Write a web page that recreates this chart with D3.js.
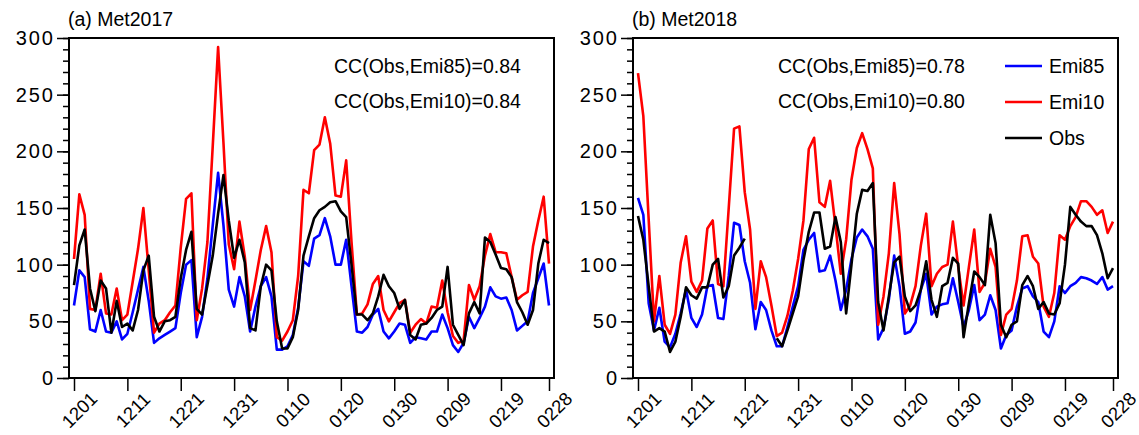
<!DOCTYPE html>
<html>
<head>
<meta charset="utf-8">
<script src="https://cdn.jsdelivr.net/npm/d3@7"></script>
<style>
    body { margin: 0; background: #fff; }
    text { font-family: "Liberation Sans", Arial, Helvetica, sans-serif; fill: #000; }
    .tick line { stroke: #000; stroke-width: 1.5; }
    .domain { display: none; }
</style>
</head>
<body>
<script>

// x axis: days from Dec 1 to Feb 28
var tickDays = [0, 10, 20, 30, 40, 50, 60, 70, 80, 89];
var tickLabels = ["1201", "1211", "1221", "1231", "0110", "0120", "0130", "0209", "0219", "0228"];
var yTicks = [0, 50, 100, 150, 200, 250, 300];

// Met2017
var emi85_2017 = [64, 95, 89, 43, 41, 60, 41, 40, 50, 34, 39, 58, 78, 98, 68, 31, 35, 38, 41, 44,
    75, 100, 104, 36, 54, 88, 135, 181, 135, 78, 63, 89, 72, 41, 63, 81, 89, 72, 25, 25,
    28, 38, 62, 103, 99, 123, 126, 141, 125, 100, 100, 122, 81, 41, 40, 45, 56, 61, 41, 35,
    41, 48, 47, 31, 36, 35, 34, 41, 41, 56, 44, 29, 23, 31, 54, 44, 53, 63, 80, 72,
    70, 71, 60, 42, 46, 50, 75, 88, 101, 64];
var emi10_2017 = [105, 162, 144, 61, 60, 92, 57, 56, 79, 51, 56, 85, 114, 150, 95, 40, 48, 51, 58, 64,
    115, 158, 163, 51, 79, 120, 205, 292, 208, 118, 96, 138, 107, 60, 86, 113, 134, 111, 36, 33,
    41, 51, 90, 166, 163, 201, 206, 230, 207, 161, 160, 192, 120, 56, 57, 65, 83, 90, 60, 50,
    58, 66, 69, 40, 47, 52, 48, 63, 62, 86, 58, 37, 31, 33, 82, 69, 81, 108, 127, 111,
    111, 110, 89, 69, 73, 76, 116, 139, 160, 101];
var obs_2017 = [82, 117, 131, 79, 59, 86, 79, 40, 68, 45, 48, 42, 60, 95, 108, 54, 41, 50, 51, 54,
    88, 113, 129, 61, 56, 82, 108, 145, 179, 139, 106, 122, 102, 44, 42, 81, 100, 95, 50, 26,
    26, 36, 60, 108, 125, 141, 148, 151, 155, 156, 147, 142, 100, 56, 56, 51, 57, 72, 91, 81,
    75, 61, 69, 38, 34, 47, 48, 53, 60, 63, 98, 47, 38, 29, 57, 67, 57, 124, 120, 109,
    97, 96, 89, 67, 58, 47, 60, 101, 122, 119];

// Met2018 (obs missing 1222-1226)
var emi85_2018 = [159, 144, 66, 42, 62, 32, 27, 39, 57, 78, 53, 45, 56, 81, 82, 53, 52, 90, 137, 135,
    103, 84, 43, 67, 60, 42, 28, 28, 45, 63, 81, 113, 122, 128, 94, 95, 108, 86, 60, 78,
    105, 124, 131, 125, 114, 34, 44, 69, 108, 81, 39, 41, 49, 78, 92, 56, 63, 65, 66, 88,
    67, 45, 60, 82, 51, 56, 73, 60, 26, 38, 42, 63, 79, 81, 72, 67, 41, 36, 50, 81,
    75, 81, 84, 89, 88, 86, 83, 89, 78, 81];
var emi10_2018 = [269, 231, 140, 50, 90, 47, 39, 56, 102, 125, 85, 76, 86, 132, 139, 83, 81, 150, 220, 222,
    164, 131, 61, 103, 89, 64, 37, 40, 55, 77, 105, 139, 202, 212, 155, 151, 174, 134, 92, 122,
    175, 203, 216, 202, 185, 47, 72, 110, 172, 127, 57, 64, 81, 117, 145, 81, 92, 98, 100, 138,
    98, 64, 98, 131, 76, 84, 114, 98, 38, 56, 61, 86, 125, 126, 107, 101, 63, 54, 75, 126,
    122, 134, 142, 156, 156, 151, 144, 148, 128, 138];
var obs_2018 = [143, 122, 81, 41, 44, 41, 23, 32, 54, 80, 73, 70, 80, 80, 100, 105, 71, 81, 108, 115,
    123, null, null, null, null, null, 35, 28, 42, 57, 72, 104, 129, 146, 146, 114, 116, 142, 120, 57,
    100, 145, 166, 165, 172, 67, 42, 72, 102, 107, 72, 59, 64, 78, 103, 69, 54, 81, 84, 106,
    101, 36, 66, 94, 89, 82, 144, 119, 47, 36, 47, 50, 82, 90, 81, 61, 67, 57, 56, 66,
    100, 151, 144, 138, 134, 134, 126, 110, 88, 97];

var panels = [
    {title: "(a) Met2017", left: 69, emi85: emi85_2017, emi10: emi10_2017, obs: obs_2017,
        cc: ["CC(Obs,Emi85)=0.84", "CC(Obs,Emi10)=0.84"], ccX: 334, legend: false},
    {title: "(b) Met2018", left: 633, emi85: emi85_2018, emi10: emi10_2018, obs: obs_2018,
        cc: ["CC(Obs,Emi85)=0.78", "CC(Obs,Emi10)=0.80"], ccX: 778, legend: true}
];

var frameW = 485, plotTop = 38, plotBottom = 378;

var svg = d3.select("body").append("svg")
    .attr("width", 1139)
    .attr("height", 435);

var y = d3.scaleLinear().domain([0, 300]).range([plotBottom, plotTop]);

panels.forEach(function(p) {

    var x = d3.scaleLinear().domain([0, 89]).range([p.left + 5, p.left + frameW - 5]);
    var g = svg.append("g");

    var line = d3.line()
        .defined(function(d) { return d != null; })
        .x(function(d, i) { return x(i); })
        .y(function(d) { return y(d); });

    // series
    [["emi85", "#0000ff"], ["emi10", "#ff0000"], ["obs", "#000000"]].forEach(function(s) {
        g.append("path")
            .datum(p[s[0]])
            .attr("fill", "none")
            .attr("stroke", s[1])
            .attr("stroke-width", 2.6)
            .attr("stroke-linejoin", "round")
            .attr("d", line);
    });

    // frame
    g.append("rect")
        .attr("x", p.left).attr("y", plotTop)
        .attr("width", frameW).attr("height", plotBottom - plotTop)
        .attr("fill", "none").attr("stroke", "#000").attr("stroke-width", 2);

    // minor y ticks
    g.append("g")
        .attr("transform", "translate(" + p.left + ",0)")
        .call(d3.axisLeft(y).tickValues(d3.range(0, 301, 10)).tickSize(6).tickFormat(""));

    // major y ticks
    var ya = g.append("g")
        .attr("transform", "translate(" + p.left + ",0)")
        .call(d3.axisLeft(y).tickValues(yTicks).tickSize(12).tickPadding(4));
    ya.selectAll("text")
        .style("font-size", "20px")
        .style("letter-spacing", "2px")
        .attr("dx", "2px");

    // x axis
    var xa = g.append("g")
        .attr("transform", "translate(0," + plotBottom + ")")
        .call(d3.axisBottom(x).tickValues(tickDays).tickSize(13)
            .tickFormat(function(d, i) { return tickLabels[i]; }));
    xa.selectAll("text")
        .attr("y", null).attr("dy", null)
        .attr("text-anchor", "middle")
        .attr("dominant-baseline", "central")
        .style("font-size", "18.5px")
        .attr("transform", "translate(5,32) rotate(-45)");

    // title
    svg.append("text")
        .attr("x", p.left - 1).attr("y", 26)
        .style("font-size", "19.5px")
        .text(p.title);

    // correlation texts
    p.cc.forEach(function(t, i) {
        svg.append("text")
            .attr("x", p.ccX).attr("y", 73 + i * 35)
            .style("font-size", "19.5px")
            .text(t);
    });

    // legend
    if (p.legend) {
        var items = [["Emi85", "#0000ff"], ["Emi10", "#ff0000"], ["Obs", "#000000"]];
        items.forEach(function(it, i) {
            var ly = 66 + i * 36;
            svg.append("line")
                .attr("x1", 1005).attr("x2", 1042)
                .attr("y1", ly).attr("y2", ly)
                .attr("stroke", it[1]).attr("stroke-width", 2.6);
            svg.append("text")
                .attr("x", 1049).attr("y", ly + 7)
                .style("font-size", "19.5px")
                .text(it[0]);
        });
    }
});

</script>
</body>
</html>
